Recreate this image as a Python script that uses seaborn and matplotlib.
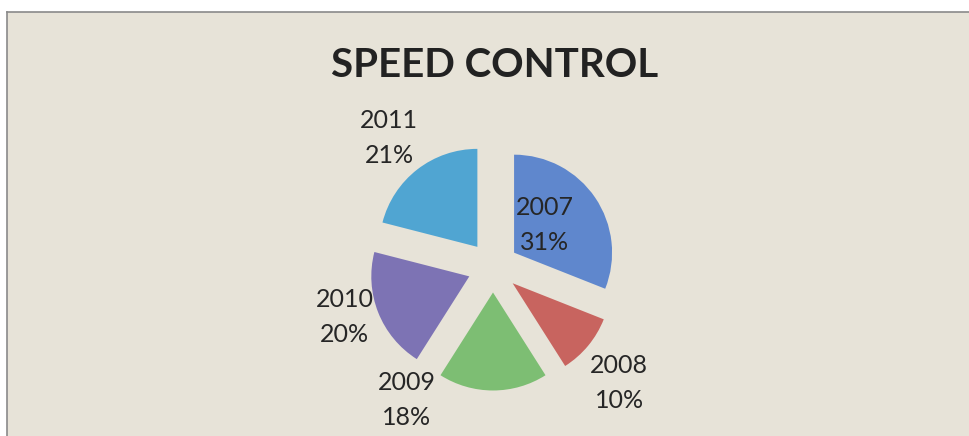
import numpy as np
import matplotlib
matplotlib.use("Agg")
import matplotlib.pyplot as plt
import seaborn as sns

# data
years = ["2007", "2008", "2009", "2010", "2011"]
shares = [31, 10, 18, 20, 21]

# where the data labels sit: distance in radius units, degrees off the slice middle
label_dist = [0.68, 1.75, 1.62, 1.60, 1.69]
label_shift = [5, -3, -33, -3, 1]

sns.set_theme(style="white")
plt.rcParams['font.family'] = ['Lato', 'DejaVu Sans']

W, H = 969, 436
fig = plt.figure(figsize=(W / 100, H / 100), dpi=100)
fig.patch.set_facecolor('white')

# chart area (paper background, border only left and top visible)
bg = fig.add_axes([7 / W, -0.05, 1.05, 1 - 12 / H + 0.05])
bg.set_facecolor('#E7E3D8')
bg.set_xticks([])
bg.set_yticks([])
for side in ['right', 'bottom']:
    bg.spines[side].set_visible(False)
for side in ['left', 'top']:
    bg.spines[side].set_color('#8A8A8A')
    bg.spines[side].set_linewidth(1.2)

palette = sns.color_palette(["#5F87CD", "#C8645F", "#7DBE73", "#7D73B4", "#50A5D2"])

ax = fig.add_axes([0, 0, 1, 1])
ax.set_facecolor('none')
R = 98
cx, cy = 493, H - 267
# every slice pulled out by about a quarter of the radius
wedges, _ = ax.pie(shares, colors=palette, startangle=90, counterclock=False,
                   explode=[0.26 * R] * len(shares), radius=R, center=(cx, cy),
                   wedgeprops=dict(linewidth=0))
ax.set_xlim(0, W)
ax.set_ylim(0, H)
ax.set_aspect('equal')
ax.axis('off')

for w, yr, sh, d, s in zip(wedges, years, shares, label_dist, label_shift):
    mid = np.deg2rad((w.theta1 + w.theta2) / 2 + s)
    ax.text(cx + d * R * np.cos(mid), cy + d * R * np.sin(mid), f"{yr}\n{sh}%",
            ha='center', va='center', ma='center', fontsize=18,
            linespacing=1.6, color='#262626')

fig.text(495 / W, 1 - 77 / H, "SPEED CONTROL", ha='center', va='baseline',
         fontsize=29, fontweight='bold', color='#222222')

fig.savefig("out.png", dpi=100)
